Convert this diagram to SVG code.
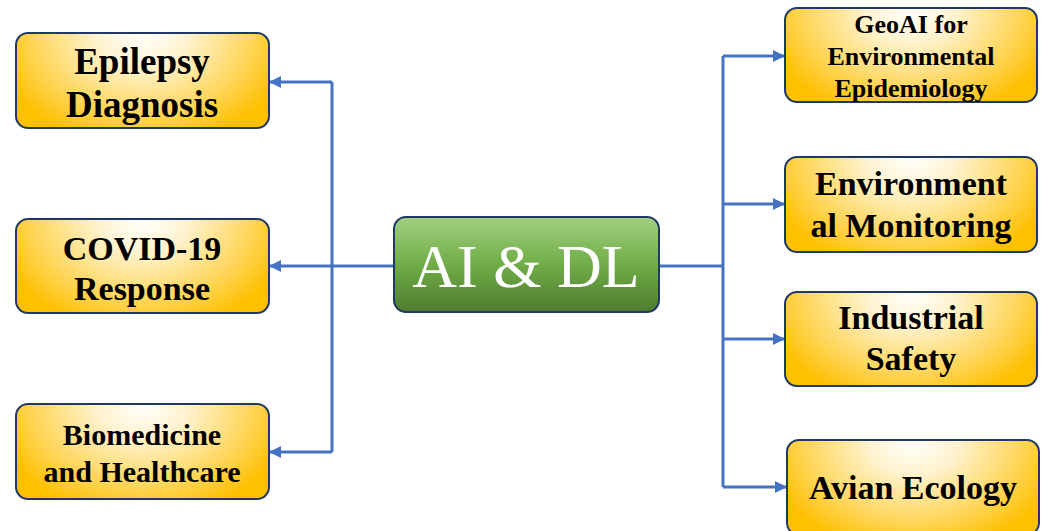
<svg xmlns="http://www.w3.org/2000/svg" width="1046" height="531" viewBox="0 0 1046 531">
<defs>
<radialGradient id="gold" cx="0.5" cy="0" r="1" fx="0.5" fy="0" gradientTransform="translate(0.5 0) scale(0.6 1.2) translate(-0.5 0)">
<stop offset="0" stop-color="#FFFFFF"/>
<stop offset="0.3" stop-color="#FFF3CF"/>
<stop offset="0.7" stop-color="#FFD75E"/>
<stop offset="1" stop-color="#FFC000"/>
</radialGradient>
<linearGradient id="green" x1="0" y1="0" x2="0" y2="1">
<stop offset="0" stop-color="#A2D083"/>
<stop offset="0.5" stop-color="#70AD47"/>
<stop offset="1" stop-color="#4E7C2F"/>
</linearGradient>
<marker id="arr" viewBox="0 0 10 10" refX="10" refY="5" markerWidth="4" markerHeight="4" orient="auto" markerUnits="strokeWidth">
<path d="M0,0 L10,5 L0,10 z" fill="#4472C4"/>
</marker>
<style>
.box{fill:url(#gold);stroke:#1F3864;stroke-width:2}
.hub{fill:url(#green);stroke:#1F3864;stroke-width:2}
.t{font-family:"Liberation Serif","Times New Roman",serif;font-weight:bold;fill:#000;text-anchor:middle}
.hubt{font-family:"Liberation Serif","Times New Roman",serif;fill:#FFFFFF;text-anchor:middle;font-size:62px}
.c{fill:none;stroke:#4472C4;stroke-width:3}
</style>
</defs>
<g id="connectors">
<path class="c" d="M394,266 H332"/>
<path class="c" d="M332,82 V452"/>
<path class="c" d="M332,82 H269" marker-end="url(#arr)"/>
<path class="c" d="M332,266 H269" marker-end="url(#arr)"/>
<path class="c" d="M332,452 H269" marker-end="url(#arr)"/>
<path class="c" d="M659,266 H723"/>
<path class="c" d="M723,56 V487"/>
<path class="c" d="M723,56 H785" marker-end="url(#arr)"/>
<path class="c" d="M723,204 H785" marker-end="url(#arr)"/>
<path class="c" d="M723,339 H785" marker-end="url(#arr)"/>
<path class="c" d="M723,487 H787" marker-end="url(#arr)"/>
</g>
<g id="hub">
<rect class="hub" x="394" y="217" width="265" height="95" rx="12"/>
<text class="hubt" x="526" y="287">AI &amp; DL</text>
</g>
<g id="epilepsy">
<rect class="box" x="16" y="33" width="253" height="95" rx="12"/>
<text class="t" x="142" y="74" font-size="37">Epilepsy</text>
<text class="t" x="142" y="117" font-size="37">Diagnosis</text>
</g>
<g id="covid">
<rect class="box" x="16" y="219" width="253" height="94" rx="12"/>
<text class="t" x="142" y="260" font-size="34">COVID-19</text>
<text class="t" x="142" y="300" font-size="34">Response</text>
</g>
<g id="biomed">
<rect class="box" x="16" y="404" width="253" height="95" rx="12"/>
<text class="t" x="142" y="445" font-size="30">Biomedicine</text>
<text class="t" x="142" y="482" font-size="30">and Healthcare</text>
</g>
<g id="geoai">
<rect class="box" x="785" y="8" width="252" height="94" rx="12"/>
<text class="t" x="911" y="33" font-size="26">GeoAI for</text>
<text class="t" x="911" y="65" font-size="26">Environmental</text>
<text class="t" x="911" y="97" font-size="26">Epidemiology</text>
</g>
<g id="envmon">
<rect class="box" x="785" y="157" width="252" height="95" rx="12"/>
<text class="t" x="911" y="195" font-size="34">Environment</text>
<text class="t" x="911" y="237" font-size="34">al Monitoring</text>
</g>
<g id="industrial">
<rect class="box" x="785" y="292" width="252" height="94" rx="12"/>
<text class="t" x="911" y="329" font-size="34">Industrial</text>
<text class="t" x="911" y="370" font-size="34">Safety</text>
</g>
<g id="avian">
<rect class="box" x="787" y="440" width="252" height="95" rx="12"/>
<text class="t" x="913" y="499" font-size="34">Avian Ecology</text>
</g>
</svg>
